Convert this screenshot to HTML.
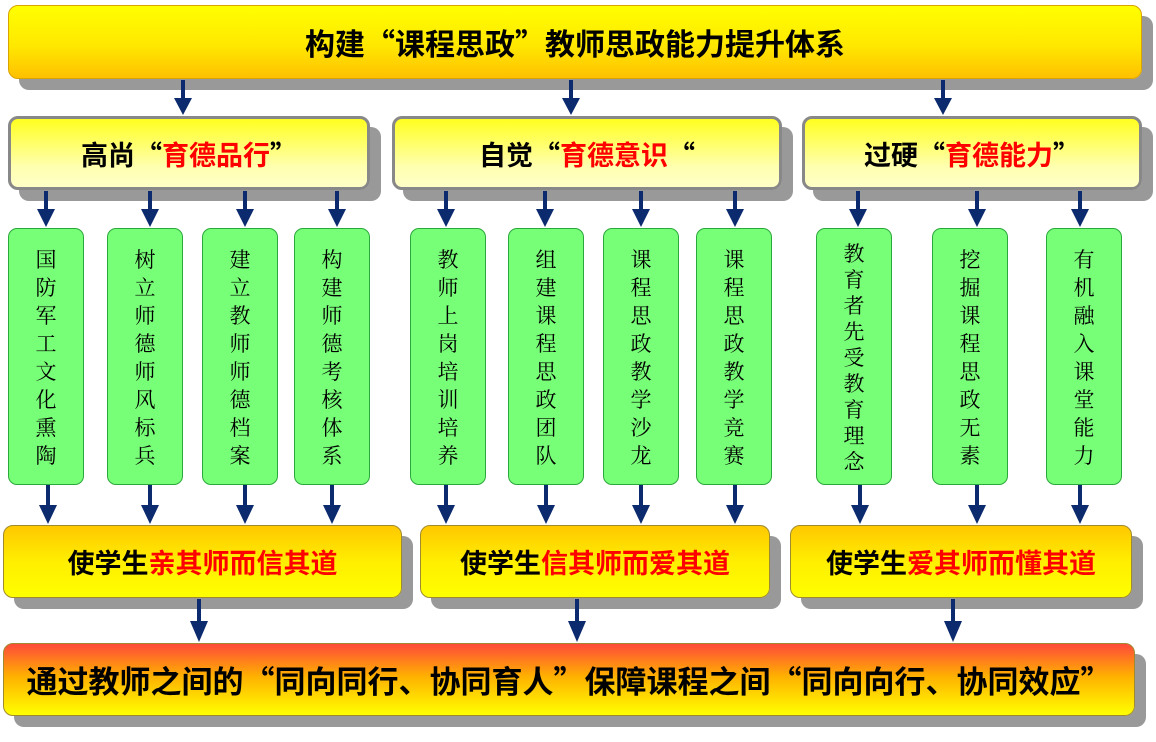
<!DOCTYPE html>
<html><head><meta charset="utf-8"><style>
body{margin:0;width:1156px;height:742px;background:#fff;position:relative;overflow:hidden;font-family:"Noto Sans CJK SC","Liberation Sans",sans-serif;font-weight:bold}
.b{position:absolute;box-sizing:border-box;display:flex;align-items:center;justify-content:center;border-radius:10px;box-shadow:11px 11px 0 #999;white-space:nowrap}
.top{left:8px;top:5px;width:1134px;height:74px;background:linear-gradient(#ffff00,#ffe800 55%,#ffc000);font-size:30px;border:1px solid #d9a400}
.mid{top:116px;height:74px;border:3px solid #888;background:linear-gradient(#ffff20,#ffffb0 70%,#ffffc8);font-size:27px}
.g{position:absolute;top:228px;height:257px;width:76px;box-sizing:border-box;background:#78ff78;border:1px solid #2aa83a;border-radius:9px;font-size:21px;font-weight:normal;text-align:center;display:flex;flex-direction:column;align-items:center;justify-content:center;font-family:"Noto Serif CJK SC","Noto Sans CJK SC",serif;line-height:28px}
.y{top:525px;height:73px;background:linear-gradient(#ffc800,#ffee00 50%,#ffff00);border:1px solid #a08a30;font-size:27px}
.fin{left:3px;top:643px;width:1132px;height:73px;background:linear-gradient(#ff4a3a,#ffb000 45%,#ffff00);border:1px solid #a08a30;font-size:31px}
.r{color:#ff0000}
svg{position:absolute;left:0;top:0}
</style></head><body>
<div class="b top">构建“课程思政”教师思政能力提升体系</div>
<div class="b mid" style="left:8px;width:362px">高尚“<span class="r">育德品行</span>”</div>
<div class="b mid" style="left:392px;width:390px">自觉“<span class="r">育德意识</span>“</div>
<div class="b mid" style="left:802px;width:340px">过硬“<span class="r">育德能力</span>”</div>

<div class="g" style="left:8px">国<br>防<br>军<br>工<br>文<br>化<br>熏<br>陶</div>
<div class="g" style="left:107px">树<br>立<br>师<br>德<br>师<br>风<br>标<br>兵</div>
<div class="g" style="left:202px">建<br>立<br>教<br>师<br>师<br>德<br>档<br>案</div>
<div class="g" style="left:294px">构<br>建<br>师<br>德<br>考<br>核<br>体<br>系</div>
<div class="g" style="left:410px">教<br>师<br>上<br>岗<br>培<br>训<br>培<br>养</div>
<div class="g" style="left:508px">组<br>建<br>课<br>程<br>思<br>政<br>团<br>队</div>
<div class="g" style="left:603px">课<br>程<br>思<br>政<br>教<br>学<br>沙<br>龙</div>
<div class="g" style="left:696px">课<br>程<br>思<br>政<br>教<br>学<br>竞<br>赛</div>
<div class="g" style="left:816px;line-height:26px">教<br>育<br>者<br>先<br>受<br>教<br>育<br>理<br>念</div>
<div class="g" style="left:932px">挖<br>掘<br>课<br>程<br>思<br>政<br>无<br>素</div>
<div class="g" style="left:1046px">有<br>机<br>融<br>入<br>课<br>堂<br>能<br>力</div>

<div class="b y" style="left:3px;width:399px">使学生<span class="r">亲其师而信其道</span></div>
<div class="b y" style="left:420px;width:350px">使学生<span class="r">信其师而爱其道</span></div>
<div class="b y" style="left:790px;width:342px">使学生<span class="r">爱其师而懂其道</span></div>
<div class="b fin">通过教师之间的“同向同行、协同育人”保障课程之间“同向向行、协同效应”</div>

<svg width="1156" height="742">
<g fill="#0c2a6e">
<path d="M181,80h4v18h7l-9,17l-9,-17h7z"/>
<path d="M569,80h4v18h7l-9,17l-9,-17h7z"/>
<path d="M941,80h4v18h7l-9,17l-9,-17h7z"/>
<path d="M44,191h4v18h7l-9,18l-9,-18h7z"/>
<path d="M148,191h4v18h7l-9,18l-9,-18h7z"/>
<path d="M243,191h4v18h7l-9,18l-9,-18h7z"/>
<path d="M335,191h4v18h7l-9,18l-9,-18h7z"/>
<path d="M444,191h4v18h7l-9,18l-9,-18h7z"/>
<path d="M543,191h4v18h7l-9,18l-9,-18h7z"/>
<path d="M639,191h4v18h7l-9,18l-9,-18h7z"/>
<path d="M733,191h4v18h7l-9,18l-9,-18h7z"/>
<path d="M856,191h4v18h7l-9,18l-9,-18h7z"/>
<path d="M975,191h4v18h7l-9,18l-9,-18h7z"/>
<path d="M1078,191h4v18h7l-9,18l-9,-18h7z"/>
<path d="M46,485h4v20h7l-9,19l-9,-19h7z"/>
<path d="M148,485h4v20h7l-9,19l-9,-19h7z"/>
<path d="M243,485h4v20h7l-9,19l-9,-19h7z"/>
<path d="M330,485h4v20h7l-9,19l-9,-19h7z"/>
<path d="M444,485h4v20h7l-9,19l-9,-19h7z"/>
<path d="M544,485h4v20h7l-9,19l-9,-19h7z"/>
<path d="M639,485h4v20h7l-9,19l-9,-19h7z"/>
<path d="M733,485h4v20h7l-9,19l-9,-19h7z"/>
<path d="M858,485h4v20h7l-9,19l-9,-19h7z"/>
<path d="M975,485h4v20h7l-9,19l-9,-19h7z"/>
<path d="M1078,485h4v20h7l-9,19l-9,-19h7z"/>
<path d="M197,599h4v22h7l-9,21l-9,-21h7z"/>
<path d="M575,599h4v22h7l-9,21l-9,-21h7z"/>
<path d="M951,599h4v22h7l-9,21l-9,-21h7z"/>
</g>
</svg>
</body></html>
